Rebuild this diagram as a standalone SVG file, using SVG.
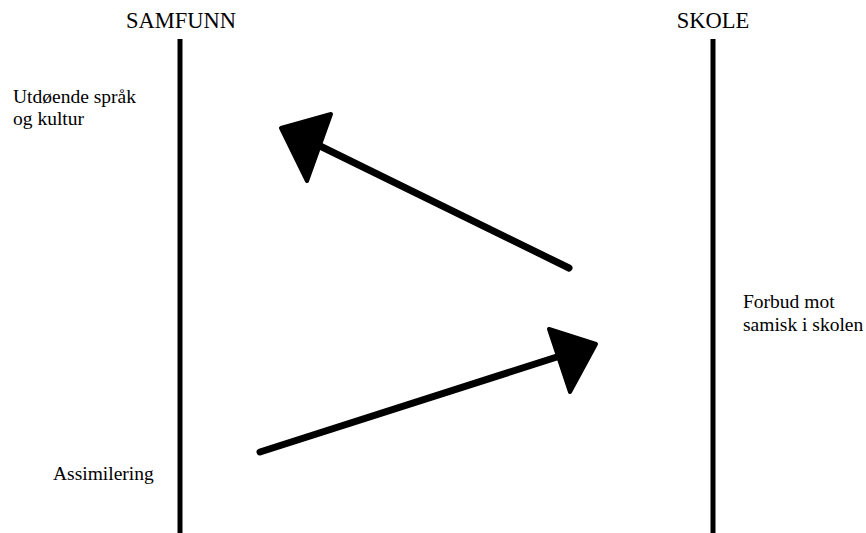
<svg xmlns="http://www.w3.org/2000/svg" width="866" height="533" viewBox="0 0 866 533">
<style>
text{font-family:"Liberation Serif","Times New Roman",serif;fill:#000}
.t{font-size:22.5px}
.l{font-size:19.5px}
.ln{stroke:#000;stroke-width:7;stroke-linecap:round;fill:none}
.hd{fill:#000;stroke:#000;stroke-width:4;stroke-linejoin:round}
.ax{stroke:#000;stroke-width:5}
</style>
<rect width="866" height="533" fill="#fff"/>
<g id="samfunn">
<line class="ax" x1="180" y1="39" x2="180" y2="533"/>
<text class="t" x="181" y="28" text-anchor="middle">SAMFUNN</text>
</g>
<g id="skole">
<line class="ax" x1="713" y1="39" x2="713" y2="533"/>
<text class="t" x="713" y="28" text-anchor="middle">SKOLE</text>
</g>
<g id="utdoende">
<text class="l" x="13" y="103">Utdøende språk</text>
<text class="l" x="13" y="125">og kultur</text>
</g>
<g id="forbud">
<text class="l" x="743" y="308">Forbud mot</text>
<text class="l" x="743" y="331">samisk i skolen</text>
</g>
<g id="assimilering">
<text class="l" x="53" y="480">Assimilering</text>
</g>
<g id="connectors">
<line class="ln" x1="569" y1="268" x2="318" y2="145"/>
<polygon class="hd" points="281,128 331,114 307,181"/>
<line class="ln" x1="260" y1="452" x2="560" y2="356"/>
<polygon class="hd" points="549,329 596,344 570,392"/>
</g>
</svg>
